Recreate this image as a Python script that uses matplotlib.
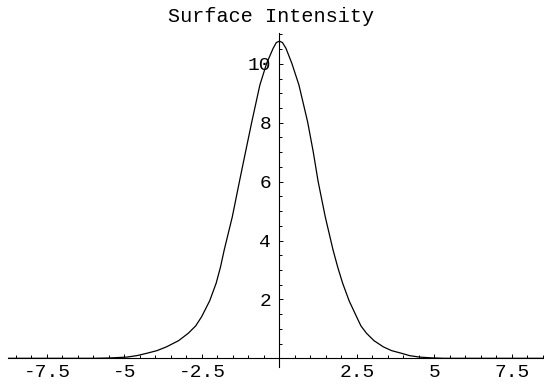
import matplotlib
matplotlib.use('Agg')
import matplotlib.pyplot as plt
from matplotlib.ticker import FixedLocator, MultipleLocator

# values
x_vals = [-8.75, -6.0, -5.5, -4.93, -4.6, -4.28, -3.95, -3.64, -3.25, -2.94,
          -2.7, -2.51, -2.25, -2.04, -1.9, -1.78, -1.52, -1.29, -1.09, -0.89,
          -0.63, -0.41, -0.2, -0.1, 0.0, 0.1, 0.21, 0.40, 0.63, 0.91,
          1.09, 1.25, 1.48, 1.73, 1.88, 2.04, 2.25, 2.49, 2.63, 2.81,
          3.05, 3.35, 3.62, 3.94, 4.2, 4.53, 4.9, 5.3, 6.0, 8.5]
y_vals = [0.0, 0.0, 0.01, 0.04, 0.09, 0.17, 0.26, 0.39, 0.6, 0.85,
          1.1, 1.41, 1.95, 2.55, 3.1, 3.68, 4.8, 6.0, 7.02, 8.03,
          9.28, 10.02, 10.53, 10.72, 10.77, 10.72, 10.53, 10.02, 9.28, 8.03,
          7.02, 6.0, 4.8, 3.68, 3.1, 2.55, 1.95, 1.41, 1.1, 0.85,
          0.6, 0.39, 0.26, 0.17, 0.09, 0.04, 0.015, 0.0, 0.0, 0.0]
x_ticks = [-7.5, -5, -2.5, 2.5, 5, 7.5]
x_labels = ['-7.5', '-5', '-2.5', '2.5', '5', '7.5']
y_ticks = [2, 4, 6, 8, 10]
y_labels = ['2', '4', '6', '8', '10']
title = 'Surface Intensity'

FONT = 'Liberation Mono'
W, H = 544, 389
X0, SX = 279.4, 31.0      # pixel of x=0, px per unit
Y0, SY = 358.3, 29.45     # pixel of y=0, px per unit
XLIM = (-8.75, 8.5)
YLIM = (-0.3, 11.04)

fig = plt.figure(figsize=(W / 100, H / 100), dpi=100)
left = (X0 + XLIM[0] * SX) / W
width = (XLIM[1] - XLIM[0]) * SX / W
bottom = (H - (Y0 - YLIM[0] * SY)) / H
height = (YLIM[1] - YLIM[0]) * SY / H
ax = fig.add_axes([left, bottom, width, height])

ax.plot(x_vals, y_vals, color='black', lw=0.9)
ax.set_xlim(*XLIM)
ax.set_ylim(*YLIM)

for s in ('top', 'right'):
    ax.spines[s].set_visible(False)
ax.spines['left'].set_position(('data', 0))
ax.spines['bottom'].set_position(('data', 0))
for s in ('left', 'bottom'):
    ax.spines[s].set_linewidth(0.8)

ax.xaxis.set_major_locator(FixedLocator(x_ticks))
ax.xaxis.set_minor_locator(MultipleLocator(0.5))
ax.set_xticklabels(x_labels, fontfamily=FONT, fontsize=14)
ax.yaxis.set_major_locator(FixedLocator(y_ticks))
ax.yaxis.set_minor_locator(MultipleLocator(0.5))
ax.set_yticklabels(y_labels, fontfamily=FONT, fontsize=14)

ax.tick_params(which='major', direction='in', length=4.3 * 0.72, width=0.7)
ax.tick_params(which='minor', direction='in', length=2.7 * 0.72, width=0.7)
ax.tick_params(axis='x', which='major', pad=4)
ax.tick_params(axis='y', which='major', pad=6)
ax.patch.set_visible(False)

fig.text(271 / W, 1 - 22 / H, title, ha='center', va='baseline',
         fontfamily=FONT, fontsize=14.5)

fig.savefig('out.png', dpi=100)
